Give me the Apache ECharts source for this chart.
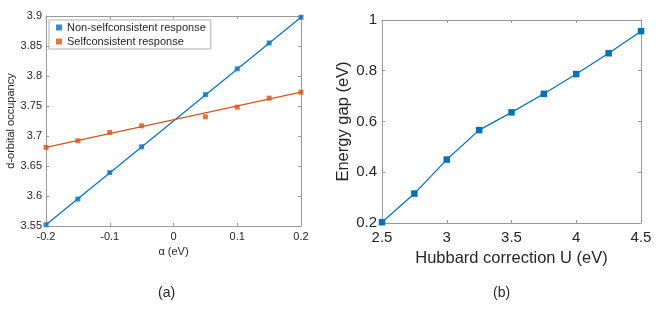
<!DOCTYPE html>
<html><head><meta charset="utf-8">
<script src="https://cdn.jsdelivr.net/npm/echarts@6/dist/echarts.min.js"></script>
<style>html,body{margin:0;padding:0;background:#fff}#c{width:665px;height:311px}</style>
</head><body><div id="c"></div>
<script>
// Panel (a)
const alphaVals = [-0.2, -0.15, -0.1, -0.05, 0.05, 0.1, 0.15, 0.2];
const nonSelf = [3.552, 3.595, 3.639, 3.682, 3.769, 3.812, 3.855, 3.898];
const selfCons = [3.681, 3.692, 3.706, 3.717, 3.732, 3.748, 3.763, 3.773];
const nonSelfFit = [[-0.2, 3.552], [0.2, 3.898]];
const selfConsFit = [[-0.2, 3.681], [0.2, 3.773]];
// Panel (b)
const hubbardU = [2.5, 2.75, 3, 3.25, 3.5, 3.75, 4, 4.25, 4.5];
const energyGap = [0.203, 0.316, 0.450, 0.566, 0.636, 0.709, 0.787, 0.869, 0.956];

const blue = '#0072BD', orange = '#D95319';
const font = 'Liberation Sans, Arial, Helvetica, sans-serif';
const axisCol = '#999999';
const txt = '#262626';

function mkAxis(opts) {
  return Object.assign({
    axisLine: {show: true, onZero: false, lineStyle: {color: axisCol, width: 1}},
    axisTick: {show: true, inside: true, length: 3, lineStyle: {color: axisCol}},
    splitLine: {show: false},
    axisLabel: {color: txt, fontFamily: font}
  }, opts);
}

const chart = echarts.init(document.getElementById('c'), null, {renderer: 'canvas'});
chart.setOption({
  animation: false,
  grid: [
    {left: 46, right: 364, top: 16, bottom: 85},
    {left: 382, right: 24, top: 20, bottom: 88}
  ],
  legend: {
    left: 49, top: 20, orient: 'vertical', data: ['Non-selfconsistent response', 'Selfconsistent response'],
    itemWidth: 6, itemHeight: 6, itemGap: 1, icon: 'rect',
    borderColor: '#b0b0b0', borderWidth: 1, padding: [1, 5, 1, 7],
    textStyle: {fontSize: 11, color: txt, fontFamily: font, lineHeight: 13}, backgroundColor: '#fff'
  },
  xAxis: [
    mkAxis({type: 'value', gridIndex: 0, min: -0.2, max: 0.2, interval: 0.1, position: 'bottom',
      axisLabel: {color: txt, fontFamily: font, fontSize: 11, margin: 5},
      name: '\u03b1 (eV)', nameLocation: 'middle', nameGap: 19,
      nameTextStyle: {color: txt, fontFamily: font, fontSize: 11}}),
    mkAxis({type: 'value', gridIndex: 0, min: -0.2, max: 0.2, interval: 0.1, position: 'top', axisLabel: {show: false}}),
    mkAxis({type: 'value', gridIndex: 1, min: 2.5, max: 4.5, interval: 0.5, position: 'bottom',
      axisLabel: {color: txt, fontFamily: font, fontSize: 15, margin: 7},
      name: 'Hubbard correction U (eV)', nameLocation: 'middle', nameGap: 27,
      nameTextStyle: {color: txt, fontFamily: font, fontSize: 16.5}}),
    mkAxis({type: 'value', gridIndex: 1, min: 2.5, max: 4.5, interval: 0.5, position: 'top', axisLabel: {show: false}})
  ],
  yAxis: [
    mkAxis({type: 'value', gridIndex: 0, min: 3.55, max: 3.9, interval: 0.05, position: 'left',
      axisLabel: {color: txt, fontFamily: font, fontSize: 11, margin: 4},
      name: 'd-orbital occupancy', nameLocation: 'middle', nameGap: 28.5,
      nameTextStyle: {color: txt, fontFamily: font, fontSize: 11}}),
    mkAxis({type: 'value', gridIndex: 0, min: 3.55, max: 3.9, interval: 0.05, position: 'right', axisLabel: {show: false}}),
    mkAxis({type: 'value', gridIndex: 1, min: 0.2, max: 1, interval: 0.2, position: 'left',
      axisLabel: {color: txt, fontFamily: font, fontSize: 15, margin: 5},
      name: 'Energy gap (eV)', nameLocation: 'middle', nameGap: 28.5,
      nameTextStyle: {color: txt, fontFamily: font, fontSize: 16.5}}),
    mkAxis({type: 'value', gridIndex: 1, min: 0.2, max: 1, interval: 0.2, position: 'right', axisLabel: {show: false}})
  ],
  graphic: [
    {type: 'text', left: 158, top: 286, style: {text: '(a)', fontSize: 14, fontFamily: font, fill: txt}},
    {type: 'text', left: 493, top: 286, style: {text: '(b)', fontSize: 14, fontFamily: font, fill: txt}}
  ],
  series: [
    {type: 'line', xAxisIndex: 0, yAxisIndex: 0, data: nonSelfFit, showSymbol: false, symbol: 'none',
      lineStyle: {color: blue, width: 1.2}, silent: true, z: 2},
    {type: 'line', xAxisIndex: 0, yAxisIndex: 0, data: selfConsFit, showSymbol: false, symbol: 'none',
      lineStyle: {color: orange, width: 1.2}, silent: true, z: 2},
    {type: 'scatter', name: 'Non-selfconsistent response', xAxisIndex: 0, yAxisIndex: 0,
      data: alphaVals.map((a, i) => [a, nonSelf[i]]), symbol: 'rect', symbolSize: 5,
      itemStyle: {color: blue}, z: 3},
    {type: 'scatter', name: 'Selfconsistent response', xAxisIndex: 0, yAxisIndex: 0,
      data: alphaVals.map((a, i) => [a, selfCons[i]]), symbol: 'rect', symbolSize: 5,
      itemStyle: {color: orange}, z: 3},
    {type: 'line', xAxisIndex: 2, yAxisIndex: 2, data: hubbardU.map((u, i) => [u, energyGap[i]]),
      symbol: 'rect', symbolSize: 6.5, showAllSymbol: true, clip: false,
      itemStyle: {color: blue}, lineStyle: {color: blue, width: 1.2}}
  ]
});
</script></body></html>
